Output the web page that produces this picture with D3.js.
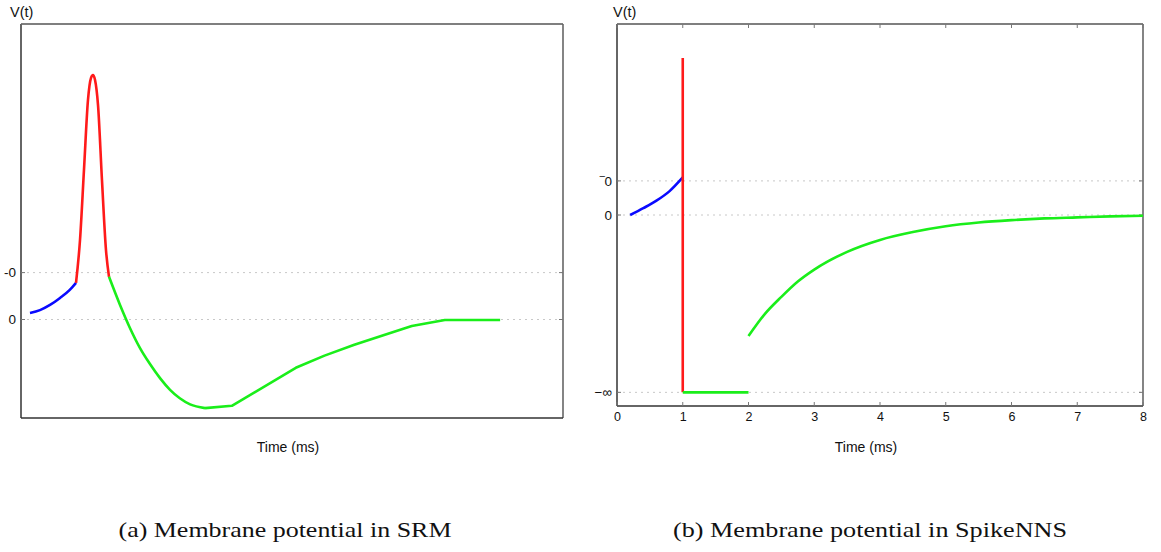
<!DOCTYPE html>
<html>
<head>
<meta charset="utf-8">
<script src="https://cdn.jsdelivr.net/npm/d3@7"></script>
<style>
  body { margin: 0; background: #fff; }
  svg { display: block; }
</style>
</head>
<body>
<svg id="chart" width="1161" height="552"></svg>
<script>
// ---------- Data: panel (a) SRM (arbitrary units: time 0-100, potential with rest=0, threshold=10) ----------
const srmBlueT    = [1.66, 3.5, 5.35, 7.2, 9.0, 10.15];
const srmBlueV    = [1.4, 2.0, 3.1, 4.6, 6.3, 7.8];
const srmRedT     = [10.15, 10.89, 11.62, 12.36, 12.92, 13.28, 13.65, 14.21, 14.94, 15.68, 16.24];
const srmRedV     = [7.8, 17.0, 31.9, 46.8, 51.5, 52.1, 51.1, 45.7, 29.7, 14.8, 9.1];
const srmGreenT   = [16.24, 18.27, 20.1, 21.96, 23.8, 25.65, 27.5, 29.3, 31.2, 33.95];
const srmGreenV   = [9.1, 3.1, -1.8, -6.1, -9.5, -12.5, -15.0, -16.8, -18.1, -18.9];
const srmGreen2T  = [33.95, 38.9, 50.7, 56.0, 61.5, 67.0, 72.1, 78.2, 88.4];
const srmGreen2V  = [-18.9, -18.4, -10.3, -7.7, -5.4, -3.3, -1.4, -0.1, -0.1];
const srmYTicks   = [0, 10];
const srmYLabels  = ["0", "-0"];

// ---------- Data: panel (b) SpikeNNS (time in ms, potential with rest=0, threshold=1, -inf shown at -5.2) ----------
const nnsBlueT   = [0.2, 0.4, 0.6, 0.8, 1.0];
const nnsBlueV   = [0, 0.2, 0.42, 0.7, 1.1];
const nnsRedT    = [1.0, 1.0];
const nnsRedV    = [-5.2, 4.6];
const nnsFlatT   = [1.0, 2.0];
const nnsFlatV   = [-5.2, -5.2];
const nnsGreenT  = [2, 2.25, 2.5, 2.75, 3, 3.5, 4, 4.5, 5, 5.5, 6, 6.5, 7, 7.5, 8];
const nnsGreenV  = [-3.55, -2.9, -2.4, -1.95, -1.6, -1.08, -0.73, -0.5, -0.33, -0.22, -0.15, -0.1, -0.07, -0.04, -0.02];
const nnsXTicks  = [0, 1, 2, 3, 4, 5, 6, 7, 8];
const nnsYTicks  = [-5.2, 0, 1];
const nnsYLabels = ["−∞", "0", "‾0"];

const captions = ["(a) Membrane potential in SRM", "(b) Membrane potential in SpikeNNS"];
const yTitle = "V(t)";
const xTitle = "Time (ms)";

const svg = d3.select("#chart");
const BLUE = "#0a0aff", RED = "#ff1a1a", GREEN = "#1aee1a";
const axisFont = "'Liberation Sans', Arial, sans-serif";

function zip(t, v) { return t.map((d, i) => [d, v[i]]); }

function panel(cfg) {
  const g = svg.append("g");
  const x = d3.scaleLinear().domain(cfg.xDomain).range([cfg.left, cfg.right]);
  const y = d3.scaleLinear().domain(cfg.yDomain).range([cfg.bottom, cfg.top]);

  // grid lines (dotted)
  g.selectAll(".grid").data(cfg.yTicks).enter().append("line")
    .attr("x1", cfg.left).attr("x2", cfg.right)
    .attr("y1", d => y(d)).attr("y2", d => y(d))
    .attr("stroke", "#c8c8c8").attr("stroke-width", 1)
    .attr("stroke-dasharray", "2,4");

  // frame
  g.append("line").attr("x1", cfg.left).attr("x2", cfg.right).attr("y1", cfg.top).attr("y2", cfg.top)
    .attr("stroke", "#555").attr("stroke-width", 1.6);
  g.append("line").attr("x1", cfg.right).attr("x2", cfg.right).attr("y1", cfg.top).attr("y2", cfg.bottom)
    .attr("stroke", "#666").attr("stroke-width", 1.6);
  g.append("line").attr("x1", cfg.left).attr("x2", cfg.left).attr("y1", cfg.top).attr("y2", cfg.bottom)
    .attr("stroke", "#666").attr("stroke-width", 2);
  g.append("line").attr("x1", cfg.left).attr("x2", cfg.right).attr("y1", cfg.bottom).attr("y2", cfg.bottom)
    .attr("stroke", "#333").attr("stroke-width", 1.6);

  // y ticks (inward, both sides) and labels
  cfg.yTicks.forEach((d, i) => {
    g.append("line").attr("x1", cfg.left).attr("x2", cfg.left + 4).attr("y1", y(d)).attr("y2", y(d))
      .attr("stroke", "#777").attr("stroke-width", 1);
    g.append("line").attr("x1", cfg.right - 4).attr("x2", cfg.right).attr("y1", y(d)).attr("y2", y(d))
      .attr("stroke", "#777").attr("stroke-width", 1);
    g.append("text").attr("x", cfg.left - 5).attr("y", y(d)).attr("dy", "0.35em")
      .attr("text-anchor", "end").attr("font-family", axisFont).attr("font-size", 13.5)
      .attr("fill", "#111").text(cfg.yLabels[i]);
  });

  // x ticks
  if (cfg.xTicks) {
    const ax = d3.axisBottom(x).tickValues(cfg.xTicks).tickSize(0).tickPadding(6).tickFormat(d3.format("d"));
    const axg = g.append("g").attr("transform", `translate(0,${cfg.bottom})`).call(ax);
    axg.select(".domain").remove();
    axg.selectAll("text").attr("font-family", axisFont).attr("font-size", 12.5).attr("fill", "#111");
    cfg.xTicks.forEach(d => {
      g.append("line").attr("x1", x(d)).attr("x2", x(d)).attr("y1", cfg.bottom).attr("y2", cfg.bottom - 4)
        .attr("stroke", "#777").attr("stroke-width", 1);
      g.append("line").attr("x1", x(d)).attr("x2", x(d)).attr("y1", cfg.top).attr("y2", cfg.top + 4)
        .attr("stroke", "#777").attr("stroke-width", 1);
    });
  }

  // curves
  cfg.series.forEach(s => {
    const line = d3.line().x(d => x(d[0])).y(d => y(d[1])).curve(s.curve || d3.curveMonotoneX);
    g.append("path").datum(zip(s.t, s.v)).attr("d", line)
      .attr("fill", "none").attr("stroke", s.color).attr("stroke-width", 2.6)
      .attr("stroke-linecap", "butt").attr("stroke-linejoin", "round");
  });

  // titles
  g.append("text").attr("x", cfg.yTitleX).attr("y", 17).attr("font-family", axisFont)
    .attr("font-size", 14.5).attr("fill", "#111").text(yTitle);
  g.append("text").attr("x", cfg.xTitleX).attr("y", 452).attr("text-anchor", "middle")
    .attr("font-family", axisFont).attr("font-size", 14).attr("fill", "#111").text(xTitle);

  // caption
  g.append("text").attr("x", cfg.capX).attr("y", 537).attr("text-anchor", "middle")
    .attr("font-family", "'Liberation Serif', 'Times New Roman', serif").attr("font-size", 22)
    .attr("textLength", cfg.capW).attr("lengthAdjust", "spacingAndGlyphs")
    .attr("fill", "#111").text(cfg.caption);
}

panel({
  left: 21, right: 563, top: 24, bottom: 418,
  xDomain: [0, 100], yDomain: [-21, 63],
  yTicks: srmYTicks, yLabels: srmYLabels, xTicks: null,
  yTitleX: 10, xTitleX: 288, capX: 285, capW: 333, caption: captions[0],
  series: [
    { t: srmBlueT, v: srmBlueV, color: BLUE },
    { t: srmRedT, v: srmRedV, color: RED },
    { t: srmGreenT, v: srmGreenV, color: GREEN },
    { t: srmGreen2T, v: srmGreen2V, color: GREEN, curve: d3.curveLinear }
  ]
});

panel({
  left: 617, right: 1143, top: 24, bottom: 406,
  xDomain: [0, 8], yDomain: [-5.6, 5.6],
  yTicks: nnsYTicks, yLabels: nnsYLabels, xTicks: nnsXTicks,
  yTitleX: 613, xTitleX: 866, capX: 870, capW: 394, caption: captions[1],
  series: [
    { t: nnsBlueT, v: nnsBlueV, color: BLUE },
    { t: nnsRedT, v: nnsRedV, color: RED, curve: d3.curveLinear },
    { t: nnsFlatT, v: nnsFlatV, color: GREEN, curve: d3.curveLinear },
    { t: nnsGreenT, v: nnsGreenV, color: GREEN }
  ]
});
</script>
</body>
</html>
